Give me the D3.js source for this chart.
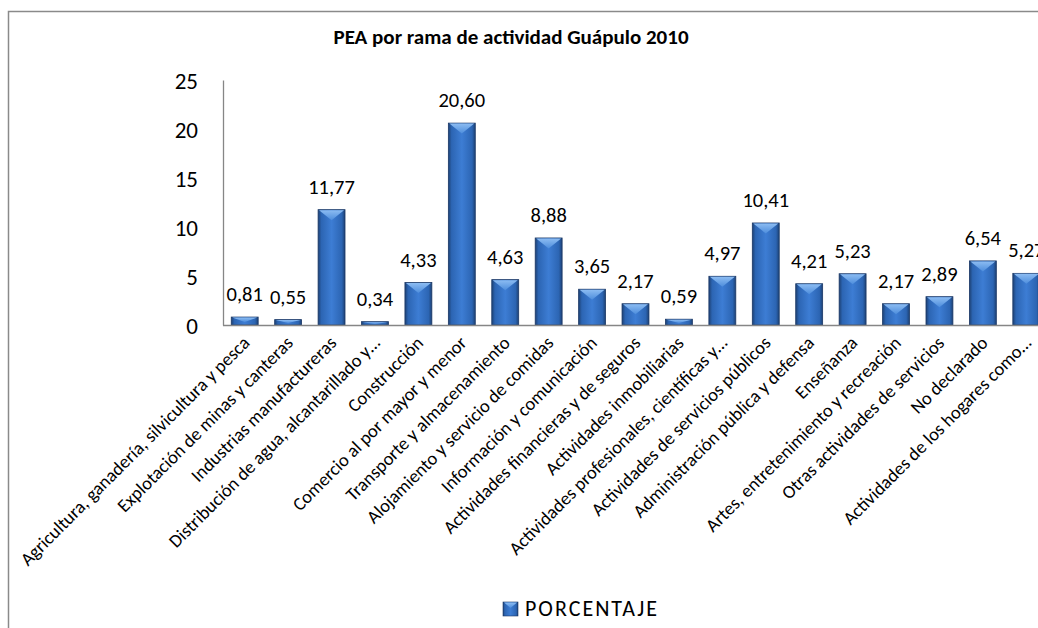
<html>
<head>
<meta charset="utf-8">
<style>
  body { margin: 0; background: #fff; }
  svg { display: block; }
  text { font-family: Carlito, Calibri, Lato, "Open Sans", sans-serif; fill: #000; }
</style>
</head>
<body>
<svg id="chart" width="1038" height="628"></svg>
<script src="https://cdn.jsdelivr.net/npm/d3@7"></script>
<script>
// categorias (etiquetas truncadas como en el original)
const categories = [
  "Agricultura, ganadería, silvicultura y pesca",
  "Explotación de minas y canteras",
  "Industrias manufactureras",
  "Distribución de agua, alcantarillado y…",
  "Construcción",
  "Comercio al por mayor y menor",
  "Transporte y almacenamiento",
  "Alojamiento y servicio de comidas",
  "Información y comunicación",
  "Actividades financieras y de seguros",
  "Actividades inmobiliarias",
  "Actividades profesionales, científicas y…",
  "Actividades de servicios públicos",
  "Administración pública y defensa",
  "Enseñanza",
  "Artes, entretenimiento y recreación",
  "Otras actividades de servicios",
  "No declarado",
  "Actividades de los hogares como…"
]
const porcentaje = [0.81, 0.55, 11.77, 0.34, 4.33, 20.60, 4.63, 8.88, 3.65, 2.17,
                    0.59, 4.97, 10.41, 4.21, 5.23, 2.17, 2.89, 6.54, 5.27]
const yTicks = [0, 5, 10, 15, 20, 25]
const title = "PEA por rama de actividad Guápulo 2010"
const seriesName = "PORCENTAJE"

let svg = d3.select("#chart")

// plot area (runs past the right edge, like the cropped original)
let plotLeft = 223, plotRight = 1048, plotTop = 80, plotBottom = 325

let x = d3.scaleBand().domain(d3.range(categories.length))
    .range([plotLeft, plotRight]).paddingInner(0.38).paddingOuter(0.19)
let y = d3.scaleLinear().domain([0, 25]).range([plotBottom, plotTop])

let defs = svg.append("defs")
let grad = defs.append("linearGradient").attr("id", "barGrad")
    .attr("x1", 0).attr("x2", 1).attr("y1", 0).attr("y2", 0)
grad.append("stop").attr("offset", "0%").attr("stop-color", "#1d4174")
grad.append("stop").attr("offset", "12%").attr("stop-color", "#2c65b3")
grad.append("stop").attr("offset", "50%").attr("stop-color", "#3d7dd4")
grad.append("stop").attr("offset", "88%").attr("stop-color", "#2c65b3")
grad.append("stop").attr("offset", "100%").attr("stop-color", "#1d4174")

let bevel = defs.append("linearGradient").attr("id", "bevelGrad")
    .attr("x1", 0).attr("x2", 0).attr("y1", 0).attr("y2", 1)
bevel.append("stop").attr("offset", "0%").attr("stop-color", "#8cbcf2")
bevel.append("stop").attr("offset", "100%").attr("stop-color", "#4d8ddc")

// outer frame
svg.append("path").attr("d", "M8.5,628 L8.5,11.5 L1038,11.5")
    .attr("fill", "none").attr("stroke", "#8a8a8a").attr("stroke-width", 1.5)

// title
svg.append("text").attr("x", 511).attr("y", 44)
    .attr("text-anchor", "middle").attr("font-size", 21).attr("font-weight", "bold")
    .text(title)

// y axis
let yAxis = d3.axisLeft(y).tickValues(yTicks).tickSize(0).tickPadding(25)
let gy = svg.append("g").attr("transform", `translate(${plotLeft},0)`).call(yAxis)
gy.select(".domain").attr("stroke", "#868686").attr("stroke-width", 1.3)
gy.selectAll("text").attr("font-size", 23).attr("font-family", null).attr("dy", "0.35em")

// bars
let bars = svg.append("g").selectAll("g").data(porcentaje).enter().append("g")

bars.append("rect")
    .attr("x", (d, i) => x(i))
    .attr("y", d => y(d))
    .attr("width", x.bandwidth())
    .attr("height", d => plotBottom - y(d))
    .attr("fill", "url(#barGrad)")
    .attr("stroke", "#1b3866").attr("stroke-width", 0.8)

bars.append("path")
    .attr("d", (d, i) => {
        let x0 = x(i) + 1, w = x.bandwidth() - 2, t = y(d) + 0.5
        let h = Math.min(10, (plotBottom - y(d)) * 0.55)
        return `M${x0},${t} L${x0 + w},${t} L${x0 + w / 2},${t + h} Z`
    })
    .attr("fill", "url(#bevelGrad)")

// x axis line drawn over bars
svg.append("line").attr("x1", plotLeft).attr("x2", plotRight)
    .attr("y1", plotBottom + 0.5).attr("y2", plotBottom + 0.5)
    .attr("stroke", "#868686").attr("stroke-width", 1.3)

// value labels
svg.append("g").selectAll("text").data(porcentaje).enter().append("text")
    .attr("x", (d, i) => x(i) + x.bandwidth() / 2)
    .attr("y", d => y(d) - 16)
    .attr("text-anchor", "middle").attr("font-size", 20.5)
    .text(d => d.toFixed(2).replace(".", ","))

// category labels
svg.append("g").selectAll("text").data(categories).enter().append("text")
    .attr("transform", (d, i) => `translate(${x(i) + x.bandwidth() / 2 + 6},${plotBottom + 19}) rotate(-45)`)
    .attr("text-anchor", "end").attr("font-size", 18.5)
    .text(d => d)

// legend
let lg = svg.append("g").attr("transform", "translate(503,602)")
lg.append("rect").attr("width", 15).attr("height", 14)
    .attr("fill", "url(#barGrad)").attr("stroke", "#1b3866").attr("stroke-width", 0.6)
lg.append("path").attr("d", "M1,0.5 L14,0.5 L7.5,6 Z").attr("fill", "url(#bevelGrad)")
lg.append("text").attr("x", 22).attr("y", 14).attr("font-size", 22)
    .attr("letter-spacing", 2).text(seriesName)
</script>
</body>
</html>
